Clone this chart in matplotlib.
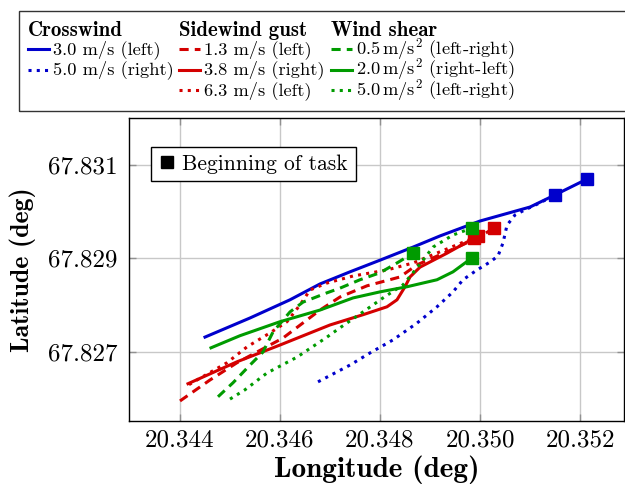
"""Trajectories of the wind disturbance runs, lat/lon with task start markers."""

import matplotlib
matplotlib.use("Agg")
import matplotlib.pyplot as plt
from matplotlib.lines import Line2D
from matplotlib.patches import Rectangle

plt.rcParams["font.family"] = ["cmr10"]
plt.rcParams["mathtext.fontset"] = "cm"
plt.rcParams["axes.formatter.use_mathtext"] = True

BLUE = "#0000CC"
RED = "#D40000"
GREEN = "#009B00"

# crosswind
cw30_lon = [20.3445, 20.3454, 20.3462, 20.3468, 20.3474, 20.3480, 20.34866,
            20.3492, 20.3500, 20.3510, 20.3515, 20.35214]
cw30_lat = [67.82731, 67.82772, 67.82811, 67.82845, 67.82871, 67.82896, 67.82924,
            67.82948, 67.82980, 67.83010, 67.83036, 67.83070]
cw50_lon = [20.34676, 20.3474, 20.3478, 20.34826, 20.34874, 20.34914, 20.34946,
            20.34966, 20.34994, 20.3502, 20.35036, 20.35046, 20.35054, 20.3507,
            20.3509, 20.3512, 20.3515]
cw50_lat = [67.82635, 67.82671, 67.82697, 67.82725, 67.82761, 67.82796, 67.82828,
            67.82854, 67.82875, 67.82892, 67.82905, 67.82933, 67.82971, 67.82993,
            67.83004, 67.83019, 67.83036]

# sidewind gust
sg13_lon = [20.3440, 20.3446, 20.34514, 20.34606, 20.3468, 20.3472, 20.34774,
            20.3484, 20.34874, 20.34934, 20.34996, 20.35028]
sg13_lat = [67.82594, 67.82639, 67.82676, 67.82729, 67.82789, 67.82817, 67.82841,
            67.82860, 67.82886, 67.82914, 67.82944, 67.82965]
sg38_lon = [20.34416, 20.34514, 20.3460, 20.3470, 20.34766, 20.34814, 20.34834,
            20.3485, 20.3486, 20.3488, 20.34934, 20.34996]
sg38_lat = [67.82631, 67.82678, 67.82714, 67.82757, 67.82779, 67.82796, 67.82811,
            67.82839, 67.82860, 67.82881, 67.82911, 67.82948]
sg63_lon = [20.34418, 20.34434, 20.34494, 20.34534, 20.3458, 20.34614, 20.3464,
            20.3466, 20.34694, 20.34746, 20.34814, 20.34866, 20.3492, 20.34988]
sg63_lat = [67.82629, 67.82639, 67.82676, 67.82710, 67.82740, 67.82764, 67.82800,
            67.82832, 67.82847, 67.82862, 67.82875, 67.82890, 67.82914, 67.82944]

# wind shear
ws05_lon = [20.34476, 20.34506, 20.3454, 20.34566, 20.34586, 20.3462, 20.34646,
            20.34694, 20.3472, 20.3476, 20.3480, 20.34834, 20.34866]
ws05_lat = [67.82603, 67.82633, 67.82671, 67.82699, 67.82742, 67.82785, 67.82806,
            67.82826, 67.82836, 67.82854, 67.82869, 67.82890, 67.82911]
ws20_lon = [20.34462, 20.3452, 20.3460, 20.3468, 20.34746, 20.3480, 20.34854,
            20.34914, 20.34946, 20.34984]
ws20_lat = [67.82708, 67.82734, 67.82764, 67.82789, 67.82815, 67.82828, 67.82839,
            67.82854, 67.82871, 67.82901]
ws50_lon = [20.3450, 20.3453, 20.34574, 20.34634, 20.34694, 20.3472, 20.34766,
            20.34806, 20.34846, 20.34866, 20.34886, 20.34906, 20.34946, 20.34984]
ws50_lat = [67.82598, 67.82618, 67.82654, 67.82688, 67.82731, 67.82751, 67.82785,
            67.82815, 67.82843, 67.82869, 67.82896, 67.82924, 67.82950, 67.82965]

xticks = [20.344, 20.346, 20.348, 20.350, 20.352]
yticks = [67.827, 67.829, 67.831]

dotted = (0, (1, 1.7))
dashed = (0, (3, 2))
lw = 2.2

groups = [
    ("Crosswind", [
        (cw30_lon, cw30_lat, BLUE, "-", "3.0 m/s (left)"),
        (cw50_lon, cw50_lat, BLUE, dotted, "5.0 m/s (right)"),
    ]),
    ("Sidewind gust", [
        (sg13_lon, sg13_lat, RED, dashed, "1.3 m/s (left)"),
        (sg38_lon, sg38_lat, RED, "-", "3.8 m/s (right)"),
        (sg63_lon, sg63_lat, RED, dotted, "6.3 m/s (left)"),
    ]),
    ("Wind shear", [
        (ws05_lon, ws05_lat, GREEN, dashed, r"$0.5\,\mathrm{m/s}^2$ (left-right)"),
        (ws20_lon, ws20_lat, GREEN, "-", r"$2.0\,\mathrm{m/s}^2$ (right-left)"),
        (ws50_lon, ws50_lat, GREEN, dotted, r"$5.0\,\mathrm{m/s}^2$ (left-right)"),
    ]),
]

fig = plt.figure(figsize=(6.25, 4.86), dpi=100)
ax = fig.add_axes([129 / 625, 65 / 486, 495 / 625, 303 / 486])

for _, series in groups:
    for lon, lat, c, ls, lbl in series:
        ax.plot(lon, lat, color=c, ls=ls, lw=lw, zorder=3)
# start-of-task markers (last point of each trace)
for _, series in groups:
    for lon, lat, c, ls, lbl in series:
        ax.plot(lon[-1], lat[-1], marker="s", ms=8.5, color=c, ls="none", zorder=4)

ax.set_xlim(20.34298, 20.35288)
ax.set_ylim(67.82551, 67.83201)
ax.set_xticks(xticks)
ax.set_yticks(yticks)
ax.set_xticklabels([f"{v:.3f}" for v in xticks])
ax.set_yticklabels([f"{v:.3f}" for v in yticks])
ax.tick_params(direction="in", length=5, width=1, color="#909090",
               top=True, right=True, labelsize=18)
ax.tick_params(axis="x", pad=6)
ax.tick_params(axis="y", pad=8)
ax.grid(True, color="#c8c8c8", lw=1)
ax.set_axisbelow(True)
for s in ax.spines.values():
    s.set_linewidth(1)

ax.set_xlabel("Longitude (deg)", family="cmb10", fontsize=21, labelpad=3)
ax.set_ylabel("Latitude (deg)", family="cmb10", fontsize=18.6, labelpad=9)

start = Line2D([], [], marker="s", color="black", ls="none", ms=8)
leg = ax.legend([start], ["Beginning of task"], loc="upper left",
                bbox_to_anchor=(0.045, 0.905), fontsize=15.5, fancybox=False,
                edgecolor="black", framealpha=1, handlelength=0.8,
                handletextpad=0.3, borderpad=0.35, borderaxespad=0)
leg.get_frame().set_linewidth(1)

# outer legend box with three titled columns (figure pixel layout)
W, H = 625, 486
fig.patches.append(Rectangle((19 / W, 1 - 111 / H), 0.98, 100 / H,
                             transform=fig.transFigure, fill=False,
                             edgecolor="#333333", lw=1))
col_x = [28, 179, 331]
row_base = [54, 74.5, 95]
for (title, series), x0 in zip(groups, col_x):
    fig.text(x0 / W, 1 - 35.5 / H, title, family="cmb10", fontsize=15,
             va="baseline", ha="left")
    for (_, _, c, ls, lbl), yb in zip(series, row_base):
        fig.add_artist(Line2D([x0 / W, (x0 + 21) / W],
                              [1 - (yb - 4.5) / H] * 2, color=c, ls=ls, lw=lw,
                              transform=fig.transFigure))
        fig.text((x0 + 25) / W, 1 - yb / H, lbl, fontsize=13.3,
                 va="baseline", ha="left")

fig.savefig("out.png", dpi=100)
